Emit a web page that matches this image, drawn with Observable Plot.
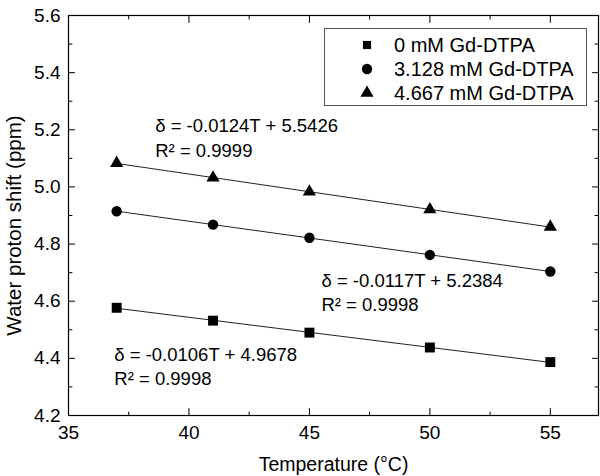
<!DOCTYPE html>
<html>
<head>
<meta charset="utf-8">
<script src="https://cdn.jsdelivr.net/npm/d3@7"></script>
<script src="https://cdn.jsdelivr.net/npm/@observablehq/plot@0.6"></script>
<style>
  html, body { margin: 0; padding: 0; background: white; }
  #wrap { position: relative; width: 600px; height: 476px; font-family: "Liberation Sans", Arial, sans-serif; }
  #legend { position: absolute; left: 324px; top: 28px; width: 261px; height: 76px; border: 1px solid #555; background: white; }
  .row { position: absolute; left: 0; height: 24px; width: 100%; }
  .row svg { position: absolute; left: 32px; top: 0; }
  .row span { position: absolute; left: 69px; top: 0; line-height: 24px; font-size: 20px; color: black; white-space: nowrap; }
</style>
</head>
<body>
<div id="wrap"></div>
<script>
// ---- data ----
const temps = [37, 41, 45, 50, 55];
const seriesNames = ["0 mM Gd-DTPA", "3.128 mM Gd-DTPA", "4.667 mM Gd-DTPA"];
const shift0 = [4.577, 4.532, 4.490, 4.438, 4.387];
const shift3128 = [4.915, 4.868, 4.822, 4.762, 4.704];
const shift4667 = [5.083, 5.032, 4.983, 4.921, 4.860];
const xMajor = [35, 40, 45, 50, 55];
const xMinor = [37.5, 42.5, 47.5, 52.5];
const yMajor = [4.2, 4.4, 4.6, 4.8, 5.0, 5.2, 5.4, 5.6];
const yMinor = [4.3, 4.5, 4.7, 4.9, 5.1, 5.3, 5.5];
const annText = [
  "δ = -0.0124T + 5.5426\nR² = 0.9999",
  "δ = -0.0117T + 5.2384\nR² = 0.9998",
  "δ = -0.0106T + 4.9678\nR² = 0.9998"
];
const annX = [38.6, 45.5, 36.9];
const annY = [5.177, 4.635, 4.376];
const xTitle = "Temperature (°C)";
const yTitle = "Water proton shift (ppm)";

// ---- styles ----
const symbolsList = ["square", "circle", "triangle"];
const symbolR = [5.6, 5.2, 4.9];
const legendR = [4.6, 5.2, 4.9];

const allSeries = [shift0, shift3128, shift4667];
const tables = allSeries.map((vals, k) => temps.map((t, i) => ({t, v: vals[i], s: seriesNames[k]})));
const ann = annText.map((txt, i) => ({txt, x: annX[i], y: annY[i]}));

const up = {draw(c, l) { c.moveTo(0, 0); c.lineTo(0, -l); }};
const down = {draw(c, l) { c.moveTo(0, 0); c.lineTo(0, l); }};
const rightward = {draw(c, l) { c.moveTo(0, 0); c.lineTo(l, 0); }};
const leftward = {draw(c, l) { c.moveTo(0, 0); c.lineTo(-l, 0); }};

function ticks(vals, axis, len) {
  const base = {anchor: "start", length: len, stroke: "black", strokeWidth: 1};
  if (axis === "x") return [
    Plot.vector(vals, {...base, x: d => d, frameAnchor: "bottom", shape: up}),
    Plot.vector(vals, {...base, x: d => d, frameAnchor: "top", shape: down})
  ];
  return [
    Plot.vector(vals, {...base, y: d => d, frameAnchor: "left", shape: rightward}),
    Plot.vector(vals, {...base, y: d => d, frameAnchor: "right", shape: leftward})
  ];
}

const chart = Plot.plot({
  width: 600,
  height: 476,
  marginLeft: 68,
  marginRight: 2,
  marginTop: 15,
  marginBottom: 61,
  style: {fontFamily: "'Liberation Sans', Arial, sans-serif", fontSize: "19px", color: "black", background: "white"},
  x: {domain: [35, 57]},
  y: {domain: [4.2, 5.6]},
  marks: [
    ...ticks(xMajor, "x", 7),
    ...ticks(xMinor, "x", 3.5),
    ...ticks(yMajor, "y", 6),
    ...ticks(yMinor, "y", 3.5),
    Plot.axisX(xMajor, {tickSize: 0, tickPadding: 10, label: null, fontSize: 19}),
    Plot.axisY(yMajor, {tickSize: 0, tickPadding: 8, label: null, fontSize: 19, tickFormat: d3.format(".1f")}),
    ...tables.map(tb => Plot.linearRegressionY(tb, {x: "t", y: "v", stroke: "#222", strokeWidth: 1, ci: 0})),
    ...tables.map((tb, k) => Plot.dot(tb, {x: "t", y: "v", symbol: () => symbolsList[k], r: symbolR[k], fill: "black", stroke: "none"})),
    Plot.text(ann, {x: "x", y: "y", text: "txt", textAnchor: "start", lineAnchor: "middle", lineHeight: 1.33, fontSize: 18.5, fill: "black"}),
    Plot.text([xTitle], {text: d => d, frameAnchor: "bottom", textAnchor: "middle", lineAnchor: "middle", dy: 49, fontSize: 19.5, fill: "black"}),
    Plot.text([yTitle], {text: d => d, frameAnchor: "left", textAnchor: "middle", lineAnchor: "middle", rotate: -90, dx: -54, dy: 10, fontSize: 20.5, fill: "black"}),
    Plot.frame({stroke: "black", strokeWidth: 1.2})
  ]
});

const wrap = document.getElementById("wrap");
wrap.appendChild(chart);

// legend (overlaid inside plot area, top-right)
const legend = document.createElement("div");
legend.id = "legend";
const symTypes = [d3.symbolSquare, d3.symbolCircle, d3.symbolTriangle];
seriesNames.forEach((name, k) => {
  const row = document.createElement("div");
  row.className = "row";
  row.style.top = (3.5 + k * 24) + "px";
  const svg = d3.create("svg").attr("width", 20).attr("height", 24);
  svg.append("path")
    .attr("transform", "translate(10,12)")
    .attr("d", d3.symbol(symTypes[k], Math.PI * legendR[k] * legendR[k])())
    .attr("fill", "black");
  row.appendChild(svg.node());
  const sp = document.createElement("span");
  sp.textContent = name;
  row.appendChild(sp);
  legend.appendChild(row);
});
wrap.appendChild(legend);
</script>
</body>
</html>
